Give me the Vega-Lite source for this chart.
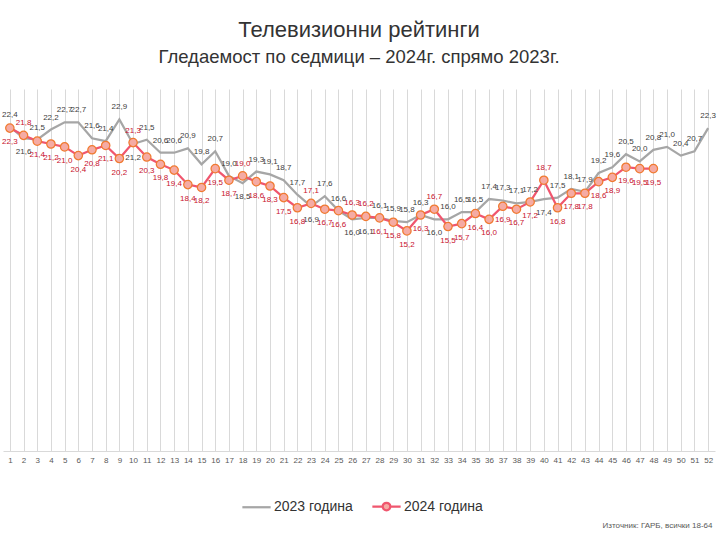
{
  "$schema": "https://vega.github.io/schema/vega-lite/v6.json",
  "width": 712,
  "height": 362,
  "autosize": {"type": "none"},
  "padding": {"left": 3, "top": 89, "right": 5, "bottom": 89},
  "background": "white",
  "config": {
    "font": "Liberation Sans",
    "view": {"stroke": null},
    "locale": {"number": {"decimal": ",", "thousands": " ", "grouping": [3], "currency": ["", ""]}}
  },
  "title": {
    "text": "Телевизионни рейтинги",
    "subtitle": "Гледаемост по седмици – 2024г. спрямо 2023г.",
    "fontSize": 22,
    "fontWeight": "normal",
    "color": "#333333",
    "subtitleFontSize": 18.5,
    "subtitleColor": "#333333",
    "subtitlePadding": 6,
    "offset": 22,
    "anchor": "middle"
  },
  "data": {
    "values": [
      {"week": 1, "series": "2023 година", "value": 22.4},
      {"week": 2, "series": "2023 година", "value": 21.6},
      {"week": 3, "series": "2023 година", "value": 21.5},
      {"week": 4, "series": "2023 година", "value": 22.2},
      {"week": 5, "series": "2023 година", "value": 22.7},
      {"week": 6, "series": "2023 година", "value": 22.7},
      {"week": 7, "series": "2023 година", "value": 21.6},
      {"week": 8, "series": "2023 година", "value": 21.4},
      {"week": 9, "series": "2023 година", "value": 22.9},
      {"week": 10, "series": "2023 година", "value": 21.2},
      {"week": 11, "series": "2023 година", "value": 21.5},
      {"week": 12, "series": "2023 година", "value": 20.6},
      {"week": 13, "series": "2023 година", "value": 20.6},
      {"week": 14, "series": "2023 година", "value": 20.9},
      {"week": 15, "series": "2023 година", "value": 19.8},
      {"week": 16, "series": "2023 година", "value": 20.7},
      {"week": 17, "series": "2023 година", "value": 19.0},
      {"week": 18, "series": "2023 година", "value": 18.5},
      {"week": 19, "series": "2023 година", "value": 19.3},
      {"week": 20, "series": "2023 година", "value": 19.1},
      {"week": 21, "series": "2023 година", "value": 18.7},
      {"week": 22, "series": "2023 година", "value": 17.7},
      {"week": 23, "series": "2023 година", "value": 16.9},
      {"week": 24, "series": "2023 година", "value": 17.6},
      {"week": 25, "series": "2023 година", "value": 16.6},
      {"week": 26, "series": "2023 година", "value": 16.0},
      {"week": 27, "series": "2023 година", "value": 16.1},
      {"week": 28, "series": "2023 година", "value": 16.1},
      {"week": 29, "series": "2023 година", "value": 15.9},
      {"week": 30, "series": "2023 година", "value": 15.8},
      {"week": 31, "series": "2023 година", "value": 16.3},
      {"week": 32, "series": "2023 година", "value": 16.0},
      {"week": 33, "series": "2023 година", "value": 16.0},
      {"week": 34, "series": "2023 година", "value": 16.5},
      {"week": 35, "series": "2023 година", "value": 16.5},
      {"week": 36, "series": "2023 година", "value": 17.4},
      {"week": 37, "series": "2023 година", "value": 17.3},
      {"week": 38, "series": "2023 година", "value": 17.1},
      {"week": 39, "series": "2023 година", "value": 17.2},
      {"week": 40, "series": "2023 година", "value": 17.4},
      {"week": 41, "series": "2023 година", "value": 17.5},
      {"week": 42, "series": "2023 година", "value": 18.1},
      {"week": 43, "series": "2023 година", "value": 17.9},
      {"week": 44, "series": "2023 година", "value": 19.2},
      {"week": 45, "series": "2023 година", "value": 19.6},
      {"week": 46, "series": "2023 година", "value": 20.5},
      {"week": 47, "series": "2023 година", "value": 20.0},
      {"week": 48, "series": "2023 година", "value": 20.8},
      {"week": 49, "series": "2023 година", "value": 21.0},
      {"week": 50, "series": "2023 година", "value": 20.4},
      {"week": 51, "series": "2023 година", "value": 20.7},
      {"week": 52, "series": "2023 година", "value": 22.3},
      {"week": 1, "series": "2024 година", "value": 22.3},
      {"week": 2, "series": "2024 година", "value": 21.8},
      {"week": 3, "series": "2024 година", "value": 21.4},
      {"week": 4, "series": "2024 година", "value": 21.2},
      {"week": 5, "series": "2024 година", "value": 21.0},
      {"week": 6, "series": "2024 година", "value": 20.4},
      {"week": 7, "series": "2024 година", "value": 20.8},
      {"week": 8, "series": "2024 година", "value": 21.1},
      {"week": 9, "series": "2024 година", "value": 20.2},
      {"week": 10, "series": "2024 година", "value": 21.3},
      {"week": 11, "series": "2024 година", "value": 20.3},
      {"week": 12, "series": "2024 година", "value": 19.8},
      {"week": 13, "series": "2024 година", "value": 19.4},
      {"week": 14, "series": "2024 година", "value": 18.4},
      {"week": 15, "series": "2024 година", "value": 18.2},
      {"week": 16, "series": "2024 година", "value": 19.5},
      {"week": 17, "series": "2024 година", "value": 18.7},
      {"week": 18, "series": "2024 година", "value": 19.0},
      {"week": 19, "series": "2024 година", "value": 18.6},
      {"week": 20, "series": "2024 година", "value": 18.3},
      {"week": 21, "series": "2024 година", "value": 17.5},
      {"week": 22, "series": "2024 година", "value": 16.8},
      {"week": 23, "series": "2024 година", "value": 17.1},
      {"week": 24, "series": "2024 година", "value": 16.7},
      {"week": 25, "series": "2024 година", "value": 16.6},
      {"week": 26, "series": "2024 година", "value": 16.3},
      {"week": 27, "series": "2024 година", "value": 16.2},
      {"week": 28, "series": "2024 година", "value": 16.1},
      {"week": 29, "series": "2024 година", "value": 15.8},
      {"week": 30, "series": "2024 година", "value": 15.2},
      {"week": 31, "series": "2024 година", "value": 16.3},
      {"week": 32, "series": "2024 година", "value": 16.7},
      {"week": 33, "series": "2024 година", "value": 15.5},
      {"week": 34, "series": "2024 година", "value": 15.7},
      {"week": 35, "series": "2024 година", "value": 16.4},
      {"week": 36, "series": "2024 година", "value": 16.0},
      {"week": 37, "series": "2024 година", "value": 16.9},
      {"week": 38, "series": "2024 година", "value": 16.7},
      {"week": 39, "series": "2024 година", "value": 17.2},
      {"week": 40, "series": "2024 година", "value": 18.7},
      {"week": 41, "series": "2024 година", "value": 16.8},
      {"week": 42, "series": "2024 година", "value": 17.8},
      {"week": 43, "series": "2024 година", "value": 17.8},
      {"week": 44, "series": "2024 година", "value": 18.6},
      {"week": 45, "series": "2024 година", "value": 18.9},
      {"week": 46, "series": "2024 година", "value": 19.6},
      {"week": 47, "series": "2024 година", "value": 19.5},
      {"week": 48, "series": "2024 година", "value": 19.5}
    ]
  },
  "transform": [
    {"joinaggregate": [{"op": "max", "field": "value", "as": "mx"}, {"op": "min", "field": "value", "as": "mn"}], "groupby": ["week"]}
  ],
  "encoding": {
    "x": {
      "field": "week",
      "type": "ordinal",
      "scale": {"paddingInner": 0, "paddingOuter": 0},
      "axis": {
        "title": "Източник: ГАРБ, всички 18-64",
        "titleFontSize": 8,
        "titleFontWeight": "normal",
        "titleColor": "#595959",
        "titleAnchor": "end",
        "titleAlign": "right",
        "titleY": 70,
        "titleX": 709,
        "labelAngle": 0,
        "labelFontSize": 8,
        "labelColor": "#595959",
        "labelPadding": 5,
        "ticks": false,
        "grid": true,
        "gridColor": "#D9D9D9",
        "gridWidth": 1,
        "bandPosition": 0,
        "domainColor": "#D9D9D9",
        "domainWidth": 1
      }
    },
    "y": {
      "field": "value",
      "type": "quantitative",
      "scale": {"domain": [0, 25], "nice": false, "zero": true},
      "axis": null
    }
  },
  "layer": [
    {
      "mark": {"type": "line", "strokeWidth": 2.25},
      "encoding": {
        "color": {
          "field": "series",
          "type": "nominal",
          "scale": {"domain": ["2023 година", "2024 година"], "range": ["#A6A6A6", "#F0566E"]},
          "legend": {
            "title": null,
            "orient": "none",
            "legendX": 238,
            "legendY": 402,
            "direction": "horizontal",
            "symbolType": "stroke",
            "symbolSize": 800,
            "symbolStrokeWidth": 2.25,
            "labelFontSize": 14,
            "labelColor": "#333333",
            "labelOffset": 2,
            "columnPadding": 14,
            "encode": {
              "symbols": {
                "update": {
                  "shape": {"signal": "datum.value == '2024 година' ? 'M-1,0L-0.27,0M0.27,0L1,0M-0.27,0A0.27,0.27,0,1,0,0.27,0A0.27,0.27,0,1,0,-0.27,0Z' : 'stroke'"},
                  "fill": {"signal": "datum.value == '2024 година' ? '#F5ABA4' : 'transparent'"}
                }
              }
            }
          }
        }
      }
    },
    {
      "transform": [{"filter": "datum.series == '2024 година'"}],
      "mark": {"type": "point", "shape": "circle", "size": 70, "filled": true, "fill": "#F5ABA4", "stroke": "#F07A30", "strokeWidth": 1.25, "opacity": 1}
    },
    {
      "transform": [{"filter": "datum.series == '2023 година' ? datum.value >= datum.mx : datum.value > datum.mn"}],
      "mark": {"type": "text", "dy": -12, "fontSize": 8},
      "encoding": {
        "text": {"field": "value", "type": "quantitative", "format": ".1f"},
        "color": {"field": "series", "type": "nominal", "scale": {"domain": ["2023 година", "2024 година"], "range": ["#404040", "#C8102E"]}, "legend": null}
      }
    },
    {
      "transform": [{"filter": "!(datum.series == '2023 година' ? datum.value >= datum.mx : datum.value > datum.mn)"}],
      "mark": {"type": "text", "dy": 14, "fontSize": 8},
      "encoding": {
        "text": {"field": "value", "type": "quantitative", "format": ".1f"},
        "color": {"field": "series", "type": "nominal", "scale": {"domain": ["2023 година", "2024 година"], "range": ["#404040", "#C8102E"]}, "legend": null}
      }
    }
  ],
  "resolve": {"scale": {"color": "independent"}}
}
